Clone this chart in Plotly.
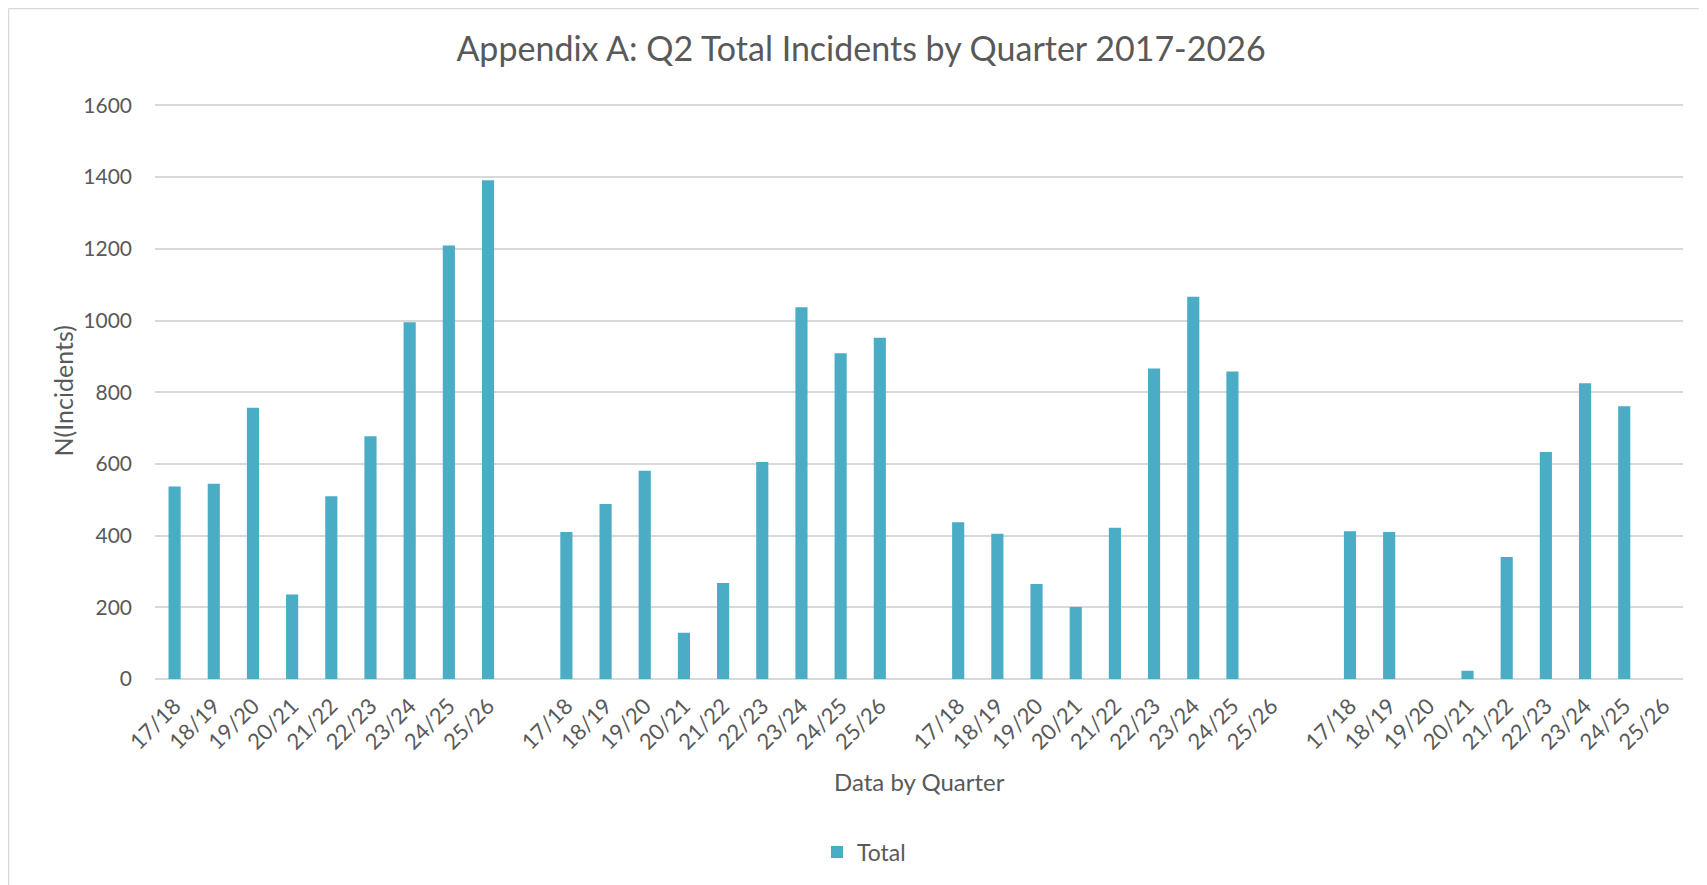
import plotly.graph_objects as go

# ---- data ----
years = ["17/18", "18/19", "19/20", "20/21", "21/22", "22/23", "23/24", "24/25", "25/26"]
group1 = [537, 545, 757, 236, 510, 677, 995, 1209, 1391]
group2 = [410, 488, 581, 129, 268, 605, 1037, 909, 952]
group3 = [437, 405, 265, 201, 422, 866, 1066, 858, None]
group4 = [412, 410, None, 23, 340, 633, 825, 761, None]
groups = [group1, group2, group3, group4]

series_name = "Total"
title_text = "Appendix A: Q2 Total Incidents by Quarter 2017-2026"
y_title = "N(Incidents)"
x_title = "Data by Quarter"
y_ticks = [0, 200, 400, 600, 800, 1000, 1200, 1400, 1600]

# build flat category list with a blank slot between groups
xs, ys, tickvals, ticktext = [], [], [], []
pos = 0
for gi, g in enumerate(groups):
    if gi > 0:
        tickvals.append(pos)
        ticktext.append("")
        pos += 1
    for lab, v in zip(years, g):
        xs.append(pos)
        ys.append(v)
        tickvals.append(pos)
        ticktext.append(lab)
        pos += 1
n_slots = pos

FONT = "Lato"
TXT = "#595959"
GRID = "#d9d9d9"
BAR = "#4bacc6"

fig = go.Figure()
fig.add_trace(go.Bar(
    x=xs, y=ys, name=series_name, marker=dict(color=BAR, line=dict(width=0)),
    width=0.31, showlegend=True,
))

# figure is placed at page offset (8, 8) by the html body margin
W, H = 1699, 877
YMAX = 1604
L, R, B = 147, 24, 206
plot_bottom = H - B              # y of value 0 in figure px
px_per_unit = (671 - 97) / 1600  # 0 at 671, 1600 at 97
T = round(plot_bottom - YMAX * px_per_unit)
pw, ph = W - L - R, H - T - B

def px_x(x):
    return (x - L) / pw

def px_y(y):
    return (plot_bottom - y) / ph

fig.update_layout(
    width=W, height=H,
    margin=dict(l=L, r=R, t=T, b=B, pad=0),
    paper_bgcolor="white", plot_bgcolor="white",
    font=dict(family=FONT, color=TXT, size=20),
    title=dict(text=title_text, x=853 / W, xanchor="center", y=1 - 41 / H, yanchor="middle",
               xref="container", yref="container",
               font=dict(family=FONT, size=34, color=TXT)),
    showlegend=True,
    legend=dict(orientation="h", x=0.464, xanchor="center", y=px_y(844), yanchor="middle",
                font=dict(family=FONT, size=23, color=TXT), itemwidth=30),
    bargap=0.69,
    xaxis=dict(range=[-0.5, n_slots - 0.5], tickmode="array", tickvals=tickvals, ticktext=ticktext,
               tickangle=-45, showgrid=False, zeroline=False, showline=False, ticks="",
               ticklabelstandoff=9,
               tickfont=dict(family=FONT, size=22, color=TXT)),
    yaxis=dict(range=[0, YMAX], tickvals=y_ticks, showgrid=True, gridcolor=GRID, gridwidth=1.5,
               zeroline=True, zerolinecolor=GRID, zerolinewidth=1.5, showline=False, ticks="",
               ticklabelstandoff=22, tickfont=dict(family=FONT, size=21, color=TXT)),
    annotations=[
        dict(text=y_title, xref="paper", yref="paper", x=px_x(54), y=0.5, textangle=-90,
             showarrow=False, xanchor="center", yanchor="middle",
             font=dict(family=FONT, size=25, color=TXT)),
        dict(text=x_title, xref="paper", yref="paper", x=0.5, y=px_y(773),
             showarrow=False, xanchor="center", yanchor="middle",
             font=dict(family=FONT, size=24, color=TXT)),
    ],
    shapes=[
        dict(type="line", xref="paper", yref="paper", x0=px_x(0.5), x1=px_x(0.5), y0=px_y(0.5), y1=px_y(900),
             line=dict(color=GRID, width=1.5)),
        dict(type="line", xref="paper", yref="paper", x0=px_x(0.5), x1=px_x(1710), y0=px_y(0.5), y1=px_y(0.5),
             line=dict(color=GRID, width=1.5)),
    ],
)

fig.write_html("out.html")
